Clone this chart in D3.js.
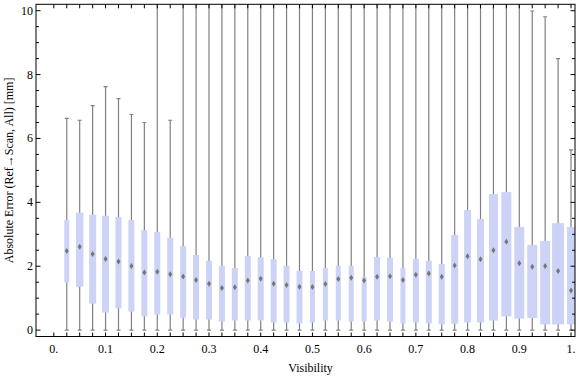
<!DOCTYPE html>
<html>
<head>
<meta charset="utf-8">
<script src="https://cdn.jsdelivr.net/npm/d3@7"></script>
<style>
  body { margin: 0; background: #fff; }
  text { font-family: "Liberation Serif", "DejaVu Serif", serif; font-size: 12px; fill: #000; }
</style>
</head>
<body>
<div id="chart"></div>
<script>
// visibility bins (box centres)
var visibility = d3.range(1, 41).map(function(k) { return k * 0.025; });
// box statistics [mm]
var q1 = [1.49,1.36,0.83,0.55,0.68,0.58,0.43,0.49,0.49,0.39,
          0.33,0.33,0.27,0.30,0.30,0.30,0.24,0.24,0.21,0.24,
          0.30,0.30,0.27,0.27,0.30,0.27,0.21,0.24,0.21,0.18,
          0.20,0.24,0.24,0.30,0.43,0.36,0.38,0.18,0.18,0.18];
var medianVal = [2.48,2.61,2.38,2.23,2.15,2.01,1.80,1.83,1.75,1.68,
          1.57,1.45,1.32,1.34,1.55,1.61,1.45,1.41,1.36,1.35,
          1.44,1.60,1.64,1.55,1.67,1.69,1.57,1.73,1.77,1.67,
          2.02,2.31,2.22,2.50,2.77,2.09,1.98,2.01,1.85,1.24];
var q3 = [3.45,3.68,3.61,3.58,3.54,3.45,3.13,3.07,2.89,2.63,
          2.35,2.17,2.01,1.95,2.32,2.28,2.22,2.01,1.85,1.85,
          1.95,2.01,2.01,1.67,2.29,2.26,1.95,2.23,2.17,2.07,
          2.98,3.76,3.48,4.26,4.32,3.23,2.67,2.79,3.35,3.23];
var whiskerLow = visibility.map(function() { return 0; });
// whiskers that leave the frame are estimated above 10.2
var whiskerHigh = [6.63,6.57,7.03,7.62,7.25,6.75,6.50,11,6.57,11,
          11,11,11,11,11,11,11,11,11,11,
          11,11,11,11,11,11,11,11,11,11,
          11,11,11,11,11,11,9.99,9.81,8.50,5.64];
// relative box width (sample weight)
var boxWeight = [5,7.5,7,7,6,6,6,6,6,6,
          6,6,6,6,6,6,6,6,6,5,
          5,5,5,5,6,6,5,6,6,6,
          7,7,7,9,10,10,10,10,12,8];
var xTickLabels = ["0.","0.1","0.2","0.3","0.4","0.5","0.6","0.7","0.8","0.9","1."];
var xTickValues = d3.range(0, 11).map(function(i) { return i / 10; });
var yTickValues = [0, 2, 4, 6, 8, 10];

var W = 576, H = 377;
var frame = { left: 36, right: 575, top: 4.3, bottom: 336.5 };

var x = d3.scaleLinear().domain([-0.0345, 1.0077]).range([frame.left, frame.right]);
var y = d3.scaleLinear().domain([-0.2, 10.2]).range([frame.bottom, frame.top]);
var wScale = d3.scaleLinear().domain([0, 1]).range([0, 1]);

var svg = d3.select("#chart").append("svg")
  .attr("width", W).attr("height", H);

svg.append("clipPath").attr("id", "clip")
  .append("rect")
  .attr("x", frame.left).attr("y", frame.top)
  .attr("width", frame.right - frame.left)
  .attr("height", frame.bottom - frame.top);

var data = visibility.map(function(v, i) {
  return { v: v, lo: whiskerLow[i], q1: q1[i], med: medianVal[i], q3: q3[i], hi: whiskerHigh[i], w: boxWeight[i] };
});

var plot = svg.append("g").attr("clip-path", "url(#clip)");

var box = plot.selectAll(".bx").data(data).enter().append("g").attr("class", "bx");

// whisker line
box.append("line")
  .attr("x1", function(d) { return x(d.v); })
  .attr("x2", function(d) { return x(d.v); })
  .attr("y1", function(d) { return y(d.lo); })
  .attr("y2", function(d) { return y(d.hi); })
  .attr("stroke", "#808080").attr("stroke-width", 1.2);

// caps
[["lo"], ["hi"]].forEach(function(k) {
  box.append("line")
    .attr("x1", function(d) { return x(d.v) - 2; })
    .attr("x2", function(d) { return x(d.v) + 2; })
    .attr("y1", function(d) { return y(d[k[0]]); })
    .attr("y2", function(d) { return y(d[k[0]]); })
    .attr("stroke", "#808080").attr("stroke-width", 1.2);
});

// box
box.append("rect")
  .attr("x", function(d) { return x(d.v) - wScale(d.w) / 2; })
  .attr("width", function(d) { return wScale(d.w); })
  .attr("y", function(d) { return y(d.q3); })
  .attr("height", function(d) { return y(d.q1) - y(d.q3); })
  .attr("fill", "#ccd3f6");

// median diamond
box.append("path")
  .attr("d", function(d) {
    var cx = x(d.v), cy = y(d.med);
    return "M" + cx + "," + (cy - 3) + "L" + (cx + 2) + "," + cy + "L" + cx + "," + (cy + 3) + "L" + (cx - 2) + "," + cy + "Z";
  })
  .attr("fill", "#767676");

// frame
svg.append("rect")
  .attr("x", frame.left).attr("y", frame.top)
  .attr("width", frame.right - frame.left)
  .attr("height", frame.bottom - frame.top)
  .attr("fill", "none").attr("stroke", "#000").attr("stroke-width", 1);

// x ticks (one per bin) bottom and top
var xTicksAll = [0].concat(visibility);
svg.selectAll(".xtb").data(xTicksAll).enter().append("line")
  .attr("x1", function(d) { return x(d); }).attr("x2", function(d) { return x(d); })
  .attr("y1", frame.bottom).attr("y2", frame.bottom - 4)
  .attr("stroke", "#000");
svg.selectAll(".xtt").data(xTicksAll).enter().append("line")
  .attr("x1", function(d) { return x(d); }).attr("x2", function(d) { return x(d); })
  .attr("y1", frame.top).attr("y2", frame.top + 4)
  .attr("stroke", "#000");

svg.selectAll(".xl").data(xTickValues).enter().append("text")
  .attr("x", function(d) { return x(d); })
  .attr("y", frame.bottom + 16)
  .attr("text-anchor", "middle")
  .text(function(d, i) { return xTickLabels[i]; });

// y ticks
var yMinor = d3.range(0, 10.01, 0.5).filter(function(d) { return d % 2 !== 0; });
svg.selectAll(".ytm").data(yTickValues).enter().append("line")
  .attr("x1", frame.left).attr("x2", frame.left + 4.5)
  .attr("y1", function(d) { return y(d); }).attr("y2", function(d) { return y(d); })
  .attr("stroke", "#000");
svg.selectAll(".ytn").data(yMinor).enter().append("line")
  .attr("x1", frame.left).attr("x2", frame.left + 3)
  .attr("y1", function(d) { return y(d); }).attr("y2", function(d) { return y(d); })
  .attr("stroke", "#000");
svg.selectAll(".ytmr").data(yTickValues).enter().append("line")
  .attr("x1", frame.right).attr("x2", frame.right - 4.5)
  .attr("y1", function(d) { return y(d); }).attr("y2", function(d) { return y(d); })
  .attr("stroke", "#000");
svg.selectAll(".ytnr").data(yMinor).enter().append("line")
  .attr("x1", frame.right).attr("x2", frame.right - 3)
  .attr("y1", function(d) { return y(d); }).attr("y2", function(d) { return y(d); })
  .attr("stroke", "#000");

svg.selectAll(".yl").data(yTickValues).enter().append("text")
  .attr("x", frame.left - 3)
  .attr("y", function(d) { return y(d) + 4; })
  .attr("text-anchor", "end")
  .text(function(d) { return d; });

// axis titles
svg.append("text")
  .attr("x", (frame.left + frame.right) / 2 + 5)
  .attr("y", 372)
  .attr("text-anchor", "middle")
  .text("Visibility");

svg.append("text")
  .attr("transform", "translate(13," + ((frame.top + frame.bottom) / 2) + ") rotate(-90)")
  .attr("text-anchor", "middle")
  .text("Absolute Error (Ref\u2192Scan, All) [mm]");
</script>
</body>
</html>
